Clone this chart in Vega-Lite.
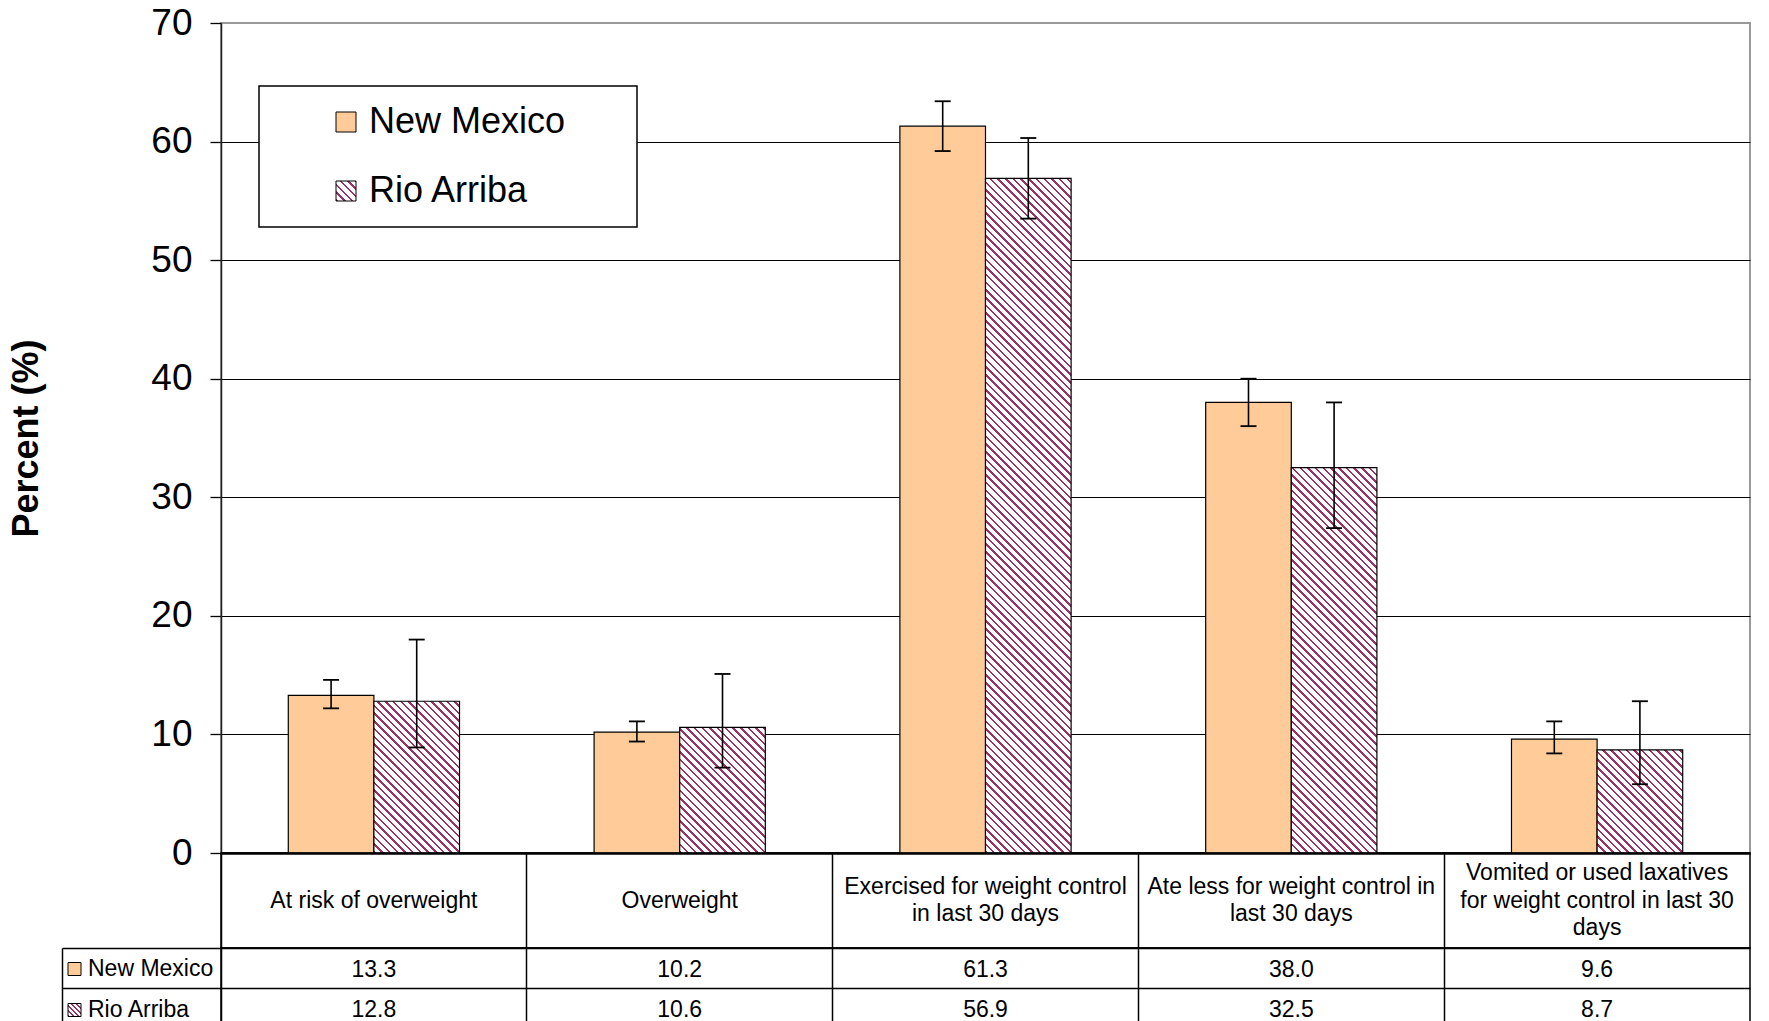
{
  "$schema": "https://vega.github.io/schema/vega-lite/v6.json",
  "background": "white",
  "padding": {"left": 7, "top": 3, "right": 10, "bottom": 0},
  "autosize": {"type": "pad"},
  "spacing": 0,
  "bounds": "flush",
  "config": {
    "font": "Liberation Sans",
    "view": {"stroke": null},
    "legend": {"strokeWidth": 1.5}
  },
  "params": [
    {"name": "hatchStops", "value": [
{"offset":0,"color":"#936"},{"offset":0.0033,"color":"#936"},{"offset":0.0033,"color":"#fff"},{"offset":0.01,"color":"#fff"},
{"offset":0.01,"color":"#936"},{"offset":0.0133,"color":"#936"},{"offset":0.0133,"color":"#fff"},{"offset":0.02,"color":"#fff"},
{"offset":0.02,"color":"#936"},{"offset":0.0233,"color":"#936"},{"offset":0.0233,"color":"#fff"},{"offset":0.03,"color":"#fff"},
{"offset":0.03,"color":"#936"},{"offset":0.0333,"color":"#936"},{"offset":0.0333,"color":"#fff"},{"offset":0.04,"color":"#fff"},
{"offset":0.04,"color":"#936"},{"offset":0.0433,"color":"#936"},{"offset":0.0433,"color":"#fff"},{"offset":0.05,"color":"#fff"},
{"offset":0.05,"color":"#936"},{"offset":0.0533,"color":"#936"},{"offset":0.0533,"color":"#fff"},{"offset":0.06,"color":"#fff"},
{"offset":0.06,"color":"#936"},{"offset":0.0633,"color":"#936"},{"offset":0.0633,"color":"#fff"},{"offset":0.07,"color":"#fff"},
{"offset":0.07,"color":"#936"},{"offset":0.0733,"color":"#936"},{"offset":0.0733,"color":"#fff"},{"offset":0.08,"color":"#fff"},
{"offset":0.08,"color":"#936"},{"offset":0.0833,"color":"#936"},{"offset":0.0833,"color":"#fff"},{"offset":0.09,"color":"#fff"},
{"offset":0.09,"color":"#936"},{"offset":0.0933,"color":"#936"},{"offset":0.0933,"color":"#fff"},{"offset":0.10,"color":"#fff"},
{"offset":0.10,"color":"#936"},{"offset":0.1033,"color":"#936"},{"offset":0.1033,"color":"#fff"},{"offset":0.11,"color":"#fff"},
{"offset":0.11,"color":"#936"},{"offset":0.1133,"color":"#936"},{"offset":0.1133,"color":"#fff"},{"offset":0.12,"color":"#fff"},
{"offset":0.12,"color":"#936"},{"offset":0.1233,"color":"#936"},{"offset":0.1233,"color":"#fff"},{"offset":0.13,"color":"#fff"},
{"offset":0.13,"color":"#936"},{"offset":0.1333,"color":"#936"},{"offset":0.1333,"color":"#fff"},{"offset":0.14,"color":"#fff"},
{"offset":0.14,"color":"#936"},{"offset":0.1433,"color":"#936"},{"offset":0.1433,"color":"#fff"},{"offset":0.15,"color":"#fff"},
{"offset":0.15,"color":"#936"},{"offset":0.1533,"color":"#936"},{"offset":0.1533,"color":"#fff"},{"offset":0.16,"color":"#fff"},
{"offset":0.16,"color":"#936"},{"offset":0.1633,"color":"#936"},{"offset":0.1633,"color":"#fff"},{"offset":0.17,"color":"#fff"},
{"offset":0.17,"color":"#936"},{"offset":0.1733,"color":"#936"},{"offset":0.1733,"color":"#fff"},{"offset":0.18,"color":"#fff"},
{"offset":0.18,"color":"#936"},{"offset":0.1833,"color":"#936"},{"offset":0.1833,"color":"#fff"},{"offset":0.19,"color":"#fff"},
{"offset":0.19,"color":"#936"},{"offset":0.1933,"color":"#936"},{"offset":0.1933,"color":"#fff"},{"offset":0.20,"color":"#fff"},
{"offset":0.20,"color":"#936"},{"offset":0.2033,"color":"#936"},{"offset":0.2033,"color":"#fff"},{"offset":0.21,"color":"#fff"},
{"offset":0.21,"color":"#936"},{"offset":0.2133,"color":"#936"},{"offset":0.2133,"color":"#fff"},{"offset":0.22,"color":"#fff"},
{"offset":0.22,"color":"#936"},{"offset":0.2233,"color":"#936"},{"offset":0.2233,"color":"#fff"},{"offset":0.23,"color":"#fff"},
{"offset":0.23,"color":"#936"},{"offset":0.2333,"color":"#936"},{"offset":0.2333,"color":"#fff"},{"offset":0.24,"color":"#fff"},
{"offset":0.24,"color":"#936"},{"offset":0.2433,"color":"#936"},{"offset":0.2433,"color":"#fff"},{"offset":0.25,"color":"#fff"},
{"offset":0.25,"color":"#936"},{"offset":0.2533,"color":"#936"},{"offset":0.2533,"color":"#fff"},{"offset":0.26,"color":"#fff"},
{"offset":0.26,"color":"#936"},{"offset":0.2633,"color":"#936"},{"offset":0.2633,"color":"#fff"},{"offset":0.27,"color":"#fff"},
{"offset":0.27,"color":"#936"},{"offset":0.2733,"color":"#936"},{"offset":0.2733,"color":"#fff"},{"offset":0.28,"color":"#fff"},
{"offset":0.28,"color":"#936"},{"offset":0.2833,"color":"#936"},{"offset":0.2833,"color":"#fff"},{"offset":0.29,"color":"#fff"},
{"offset":0.29,"color":"#936"},{"offset":0.2933,"color":"#936"},{"offset":0.2933,"color":"#fff"},{"offset":0.30,"color":"#fff"},
{"offset":0.30,"color":"#936"},{"offset":0.3033,"color":"#936"},{"offset":0.3033,"color":"#fff"},{"offset":0.31,"color":"#fff"},
{"offset":0.31,"color":"#936"},{"offset":0.3133,"color":"#936"},{"offset":0.3133,"color":"#fff"},{"offset":0.32,"color":"#fff"},
{"offset":0.32,"color":"#936"},{"offset":0.3233,"color":"#936"},{"offset":0.3233,"color":"#fff"},{"offset":0.33,"color":"#fff"},
{"offset":0.33,"color":"#936"},{"offset":0.3333,"color":"#936"},{"offset":0.3333,"color":"#fff"},{"offset":0.34,"color":"#fff"},
{"offset":0.34,"color":"#936"},{"offset":0.3433,"color":"#936"},{"offset":0.3433,"color":"#fff"},{"offset":0.35,"color":"#fff"},
{"offset":0.35,"color":"#936"},{"offset":0.3533,"color":"#936"},{"offset":0.3533,"color":"#fff"},{"offset":0.36,"color":"#fff"},
{"offset":0.36,"color":"#936"},{"offset":0.3633,"color":"#936"},{"offset":0.3633,"color":"#fff"},{"offset":0.37,"color":"#fff"},
{"offset":0.37,"color":"#936"},{"offset":0.3733,"color":"#936"},{"offset":0.3733,"color":"#fff"},{"offset":0.38,"color":"#fff"},
{"offset":0.38,"color":"#936"},{"offset":0.3833,"color":"#936"},{"offset":0.3833,"color":"#fff"},{"offset":0.39,"color":"#fff"},
{"offset":0.39,"color":"#936"},{"offset":0.3933,"color":"#936"},{"offset":0.3933,"color":"#fff"},{"offset":0.40,"color":"#fff"},
{"offset":0.40,"color":"#936"},{"offset":0.4033,"color":"#936"},{"offset":0.4033,"color":"#fff"},{"offset":0.41,"color":"#fff"},
{"offset":0.41,"color":"#936"},{"offset":0.4133,"color":"#936"},{"offset":0.4133,"color":"#fff"},{"offset":0.42,"color":"#fff"},
{"offset":0.42,"color":"#936"},{"offset":0.4233,"color":"#936"},{"offset":0.4233,"color":"#fff"},{"offset":0.43,"color":"#fff"},
{"offset":0.43,"color":"#936"},{"offset":0.4333,"color":"#936"},{"offset":0.4333,"color":"#fff"},{"offset":0.44,"color":"#fff"},
{"offset":0.44,"color":"#936"},{"offset":0.4433,"color":"#936"},{"offset":0.4433,"color":"#fff"},{"offset":0.45,"color":"#fff"},
{"offset":0.45,"color":"#936"},{"offset":0.4533,"color":"#936"},{"offset":0.4533,"color":"#fff"},{"offset":0.46,"color":"#fff"},
{"offset":0.46,"color":"#936"},{"offset":0.4633,"color":"#936"},{"offset":0.4633,"color":"#fff"},{"offset":0.47,"color":"#fff"},
{"offset":0.47,"color":"#936"},{"offset":0.4733,"color":"#936"},{"offset":0.4733,"color":"#fff"},{"offset":0.48,"color":"#fff"},
{"offset":0.48,"color":"#936"},{"offset":0.4833,"color":"#936"},{"offset":0.4833,"color":"#fff"},{"offset":0.49,"color":"#fff"},
{"offset":0.49,"color":"#936"},{"offset":0.4933,"color":"#936"},{"offset":0.4933,"color":"#fff"},{"offset":0.50,"color":"#fff"},
{"offset":0.50,"color":"#936"},{"offset":0.5033,"color":"#936"},{"offset":0.5033,"color":"#fff"},{"offset":0.51,"color":"#fff"},
{"offset":0.51,"color":"#936"},{"offset":0.5133,"color":"#936"},{"offset":0.5133,"color":"#fff"},{"offset":0.52,"color":"#fff"},
{"offset":0.52,"color":"#936"},{"offset":0.5233,"color":"#936"},{"offset":0.5233,"color":"#fff"},{"offset":0.53,"color":"#fff"},
{"offset":0.53,"color":"#936"},{"offset":0.5333,"color":"#936"},{"offset":0.5333,"color":"#fff"},{"offset":0.54,"color":"#fff"},
{"offset":0.54,"color":"#936"},{"offset":0.5433,"color":"#936"},{"offset":0.5433,"color":"#fff"},{"offset":0.55,"color":"#fff"},
{"offset":0.55,"color":"#936"},{"offset":0.5533,"color":"#936"},{"offset":0.5533,"color":"#fff"},{"offset":0.56,"color":"#fff"},
{"offset":0.56,"color":"#936"},{"offset":0.5633,"color":"#936"},{"offset":0.5633,"color":"#fff"},{"offset":0.57,"color":"#fff"},
{"offset":0.57,"color":"#936"},{"offset":0.5733,"color":"#936"},{"offset":0.5733,"color":"#fff"},{"offset":0.58,"color":"#fff"},
{"offset":0.58,"color":"#936"},{"offset":0.5833,"color":"#936"},{"offset":0.5833,"color":"#fff"},{"offset":0.59,"color":"#fff"},
{"offset":0.59,"color":"#936"},{"offset":0.5933,"color":"#936"},{"offset":0.5933,"color":"#fff"},{"offset":0.60,"color":"#fff"},
{"offset":0.60,"color":"#936"},{"offset":0.6033,"color":"#936"},{"offset":0.6033,"color":"#fff"},{"offset":0.61,"color":"#fff"},
{"offset":0.61,"color":"#936"},{"offset":0.6133,"color":"#936"},{"offset":0.6133,"color":"#fff"},{"offset":0.62,"color":"#fff"},
{"offset":0.62,"color":"#936"},{"offset":0.6233,"color":"#936"},{"offset":0.6233,"color":"#fff"},{"offset":0.63,"color":"#fff"},
{"offset":0.63,"color":"#936"},{"offset":0.6333,"color":"#936"},{"offset":0.6333,"color":"#fff"},{"offset":0.64,"color":"#fff"},
{"offset":0.64,"color":"#936"},{"offset":0.6433,"color":"#936"},{"offset":0.6433,"color":"#fff"},{"offset":0.65,"color":"#fff"},
{"offset":0.65,"color":"#936"},{"offset":0.6533,"color":"#936"},{"offset":0.6533,"color":"#fff"},{"offset":0.66,"color":"#fff"},
{"offset":0.66,"color":"#936"},{"offset":0.6633,"color":"#936"},{"offset":0.6633,"color":"#fff"},{"offset":0.67,"color":"#fff"},
{"offset":0.67,"color":"#936"},{"offset":0.6733,"color":"#936"},{"offset":0.6733,"color":"#fff"},{"offset":0.68,"color":"#fff"},
{"offset":0.68,"color":"#936"},{"offset":0.6833,"color":"#936"},{"offset":0.6833,"color":"#fff"},{"offset":0.69,"color":"#fff"},
{"offset":0.69,"color":"#936"},{"offset":0.6933,"color":"#936"},{"offset":0.6933,"color":"#fff"},{"offset":0.70,"color":"#fff"},
{"offset":0.70,"color":"#936"},{"offset":0.7033,"color":"#936"},{"offset":0.7033,"color":"#fff"},{"offset":0.71,"color":"#fff"},
{"offset":0.71,"color":"#936"},{"offset":0.7133,"color":"#936"},{"offset":0.7133,"color":"#fff"},{"offset":0.72,"color":"#fff"},
{"offset":0.72,"color":"#936"},{"offset":0.7233,"color":"#936"},{"offset":0.7233,"color":"#fff"},{"offset":0.73,"color":"#fff"},
{"offset":0.73,"color":"#936"},{"offset":0.7333,"color":"#936"},{"offset":0.7333,"color":"#fff"},{"offset":0.74,"color":"#fff"},
{"offset":0.74,"color":"#936"},{"offset":0.7433,"color":"#936"},{"offset":0.7433,"color":"#fff"},{"offset":0.75,"color":"#fff"},
{"offset":0.75,"color":"#936"},{"offset":0.7533,"color":"#936"},{"offset":0.7533,"color":"#fff"},{"offset":0.76,"color":"#fff"},
{"offset":0.76,"color":"#936"},{"offset":0.7633,"color":"#936"},{"offset":0.7633,"color":"#fff"},{"offset":0.77,"color":"#fff"},
{"offset":0.77,"color":"#936"},{"offset":0.7733,"color":"#936"},{"offset":0.7733,"color":"#fff"},{"offset":0.78,"color":"#fff"},
{"offset":0.78,"color":"#936"},{"offset":0.7833,"color":"#936"},{"offset":0.7833,"color":"#fff"},{"offset":0.79,"color":"#fff"},
{"offset":0.79,"color":"#936"},{"offset":0.7933,"color":"#936"},{"offset":0.7933,"color":"#fff"},{"offset":0.80,"color":"#fff"},
{"offset":0.80,"color":"#936"},{"offset":0.8033,"color":"#936"},{"offset":0.8033,"color":"#fff"},{"offset":0.81,"color":"#fff"},
{"offset":0.81,"color":"#936"},{"offset":0.8133,"color":"#936"},{"offset":0.8133,"color":"#fff"},{"offset":0.82,"color":"#fff"},
{"offset":0.82,"color":"#936"},{"offset":0.8233,"color":"#936"},{"offset":0.8233,"color":"#fff"},{"offset":0.83,"color":"#fff"},
{"offset":0.83,"color":"#936"},{"offset":0.8333,"color":"#936"},{"offset":0.8333,"color":"#fff"},{"offset":0.84,"color":"#fff"},
{"offset":0.84,"color":"#936"},{"offset":0.8433,"color":"#936"},{"offset":0.8433,"color":"#fff"},{"offset":0.85,"color":"#fff"},
{"offset":0.85,"color":"#936"},{"offset":0.8533,"color":"#936"},{"offset":0.8533,"color":"#fff"},{"offset":0.86,"color":"#fff"},
{"offset":0.86,"color":"#936"},{"offset":0.8633,"color":"#936"},{"offset":0.8633,"color":"#fff"},{"offset":0.87,"color":"#fff"},
{"offset":0.87,"color":"#936"},{"offset":0.8733,"color":"#936"},{"offset":0.8733,"color":"#fff"},{"offset":0.88,"color":"#fff"},
{"offset":0.88,"color":"#936"},{"offset":0.8833,"color":"#936"},{"offset":0.8833,"color":"#fff"},{"offset":0.89,"color":"#fff"},
{"offset":0.89,"color":"#936"},{"offset":0.8933,"color":"#936"},{"offset":0.8933,"color":"#fff"},{"offset":0.90,"color":"#fff"},
{"offset":0.90,"color":"#936"},{"offset":0.9033,"color":"#936"},{"offset":0.9033,"color":"#fff"},{"offset":0.91,"color":"#fff"},
{"offset":0.91,"color":"#936"},{"offset":0.9133,"color":"#936"},{"offset":0.9133,"color":"#fff"},{"offset":0.92,"color":"#fff"},
{"offset":0.92,"color":"#936"},{"offset":0.9233,"color":"#936"},{"offset":0.9233,"color":"#fff"},{"offset":0.93,"color":"#fff"},
{"offset":0.93,"color":"#936"},{"offset":0.9333,"color":"#936"},{"offset":0.9333,"color":"#fff"},{"offset":0.94,"color":"#fff"},
{"offset":0.94,"color":"#936"},{"offset":0.9433,"color":"#936"},{"offset":0.9433,"color":"#fff"},{"offset":0.95,"color":"#fff"},
{"offset":0.95,"color":"#936"},{"offset":0.9533,"color":"#936"},{"offset":0.9533,"color":"#fff"},{"offset":0.96,"color":"#fff"},
{"offset":0.96,"color":"#936"},{"offset":0.9633,"color":"#936"},{"offset":0.9633,"color":"#fff"},{"offset":0.97,"color":"#fff"},
{"offset":0.97,"color":"#936"},{"offset":0.9733,"color":"#936"},{"offset":0.9733,"color":"#fff"},{"offset":0.98,"color":"#fff"},
{"offset":0.98,"color":"#936"},{"offset":0.9833,"color":"#936"},{"offset":0.9833,"color":"#fff"},{"offset":0.99,"color":"#fff"},
{"offset":0.99,"color":"#936"},{"offset":0.9933,"color":"#936"},{"offset":0.9933,"color":"#fff"},{"offset":1.00,"color":"#fff"}
    ]},
    {"name": "raLegend", "expr": "{gradient: 'linear', x1: 0, y1: 1, x2: 19.25, y2: -18.25, stops: hatchStops}"}
  ],
  "datasets": {
    "survey": [
      {"Indicator": "At risk of overweight", "Region": "New Mexico", "Percent": 13.3, "Low": 12.2, "High": 14.6},
      {"Indicator": "At risk of overweight", "Region": "Rio Arriba", "Percent": 12.8, "Low": 8.9, "High": 18.0},
      {"Indicator": "Overweight", "Region": "New Mexico", "Percent": 10.2, "Low": 9.4, "High": 11.1},
      {"Indicator": "Overweight", "Region": "Rio Arriba", "Percent": 10.6, "Low": 7.2, "High": 15.1},
      {"Indicator": "Exercised for weight control\nin last 30 days", "Region": "New Mexico", "Percent": 61.3, "Low": 59.2, "High": 63.4},
      {"Indicator": "Exercised for weight control\nin last 30 days", "Region": "Rio Arriba", "Percent": 56.9, "Low": 53.5, "High": 60.3},
      {"Indicator": "Ate less for weight control in\nlast 30 days", "Region": "New Mexico", "Percent": 38.0, "Low": 36.0, "High": 40.0},
      {"Indicator": "Ate less for weight control in\nlast 30 days", "Region": "Rio Arriba", "Percent": 32.5, "Low": 27.4, "High": 38.0},
      {"Indicator": "Vomited or used laxatives\nfor weight control in last 30\ndays", "Region": "New Mexico", "Percent": 9.6, "Low": 8.4, "High": 11.1},
      {"Indicator": "Vomited or used laxatives\nfor weight control in last 30\ndays", "Region": "Rio Arriba", "Percent": 8.7, "Low": 5.8, "High": 12.8}
    ]
  },
  "data": {"name": "survey"},
  "resolve": {"legend": {"fill": "independent"}},
  "vconcat": [
    {
      "width": 1529,
      "height": 830,
      "view": {"stroke": "#999999", "strokeWidth": 2},
      "encoding": {
        "x": {"field": "Indicator", "type": "nominal", "sort": null, "scale": {"type": "band", "paddingInner": 0, "paddingOuter": 0}, "axis": null},
        "xOffset": {"field": "Region", "type": "nominal", "scale": {"paddingInner": 0, "paddingOuter": 0.786}}
      },
      "layer": [
        {
          "mark": {"type": "point", "shape": "square", "filled": true, "opacity": 0, "stroke": "black", "strokeWidth": 1},
          "encoding": {
            "y": {
              "field": "Percent", "type": "quantitative",
              "scale": {"domain": [0, 70], "nice": false},
              "axis": {
                "values": [0, 10, 20, 30, 40, 50, 60, 70],
                "title": "Percent (%)", "titleFontSize": 36, "titleFontWeight": "bold", "titleColor": "black", "titlePadding": 105,
                "labelFontSize": 37, "labelColor": "black", "labelPadding": 18,
                "tickSize": 11, "tickColor": "black", "tickWidth": 1.3,
                "domainColor": "#222222", "domainWidth": 1.5,
                "grid": true, "gridOpacity": 1,
                "gridColor": {"condition": {"test": "datum.value === 70", "value": "transparent"}, "value": "black"},
                "gridWidth": {"condition": {"test": "datum.value === 0", "value": 2.5}, "value": 1.2}
              }
            },
            "fill": {
              "field": "Region", "type": "nominal",
              "scale": {"domain": ["New Mexico", "Rio Arriba"], "range": ["#ffcc99", {"expr": "raLegend"}]},
              "legend": {
                "orient": "none", "legendX": 38, "legendY": 63, "direction": "vertical",
                "title": " ", "titleOrient": "right", "titlePadding": 54, "titleFontSize": 10,
                "padding": 18, "strokeColor": "black", "fillColor": "white",
                "symbolType": "square", "symbolSize": 400, "symbolOffset": 51,
                "symbolStrokeColor": "black", "symbolStrokeWidth": 1, "symbolOpacity": 1,
                "labelFontSize": 36, "labelColor": "black", "labelOffset": 5, "labelLimit": 500,
                "rowPadding": 33
              }
            }
          }
        },
        {
          "mark": {"type": "bar", "stroke": "black", "strokeWidth": 1.2, "opacity": 1},
          "encoding": {
            "y": {"field": "Percent", "type": "quantitative"},
            "fill": {"value": {"expr": "datum.Region === 'New Mexico' ? '#ffcc99' : {gradient: 'linear', x1: 0, y1: 1, x2: 770 * 85.6 / (7327 + pow(datum.Percent * 11.857, 2)), y2: 1 - 770 * datum.Percent * 11.857 / (7327 + pow(datum.Percent * 11.857, 2)), stops: hatchStops}"}}
          }
        },
        {
          "mark": {"type": "rule", "color": "black", "strokeWidth": 1.6, "opacity": 1},
          "encoding": {
            "y": {"field": "Low", "type": "quantitative"},
            "y2": {"field": "High"}
          }
        },
        {
          "mark": {"type": "tick", "color": "black", "thickness": 1.8, "size": 16, "opacity": 1},
          "encoding": {"y": {"field": "Low", "type": "quantitative"}}
        },
        {
          "mark": {"type": "tick", "color": "black", "thickness": 1.8, "size": 16, "opacity": 1},
          "encoding": {"y": {"field": "High", "type": "quantitative"}}
        }
      ]
    },
    {
      "width": 1529,
      "height": 95,
      "view": {"stroke": "black", "strokeWidth": 1.5},
      "transform": [{"filter": "datum.Region === 'New Mexico'"}],
      "mark": {
        "type": "text", "fontSize": 23, "lineBreak": "\n", "lineHeight": 27.5, "color": "black", "baseline": "middle", "align": "center",
        "dy": {"expr": "-(length(split(datum.Indicator, '\\n')) - 1) * 13.75"}
      },
      "encoding": {
        "x": {
          "field": "Indicator", "type": "nominal", "sort": null,
          "scale": {"type": "band", "paddingInner": 0, "paddingOuter": 0},
          "axis": {"orient": "top", "title": null, "labels": false, "ticks": false, "domain": false, "grid": true, "gridColor": "black", "gridWidth": 1.5, "gridOpacity": 1, "bandPosition": 0}
        },
        "text": {"field": "Indicator"}
      }
    },
    {
      "width": 1529,
      "height": 80,
      "view": {"stroke": "black", "strokeWidth": 1.5},
      "encoding": {
        "x": {
          "field": "Indicator", "type": "nominal", "sort": null,
          "scale": {"type": "band", "paddingInner": 0, "paddingOuter": 0},
          "axis": {"orient": "top", "title": null, "labels": false, "ticks": false, "domain": false, "grid": true, "gridColor": "black", "gridWidth": 1.5, "gridOpacity": 1, "bandPosition": 0}
        }
      },
      "layer": [
        {
          "mark": {"type": "point", "shape": "square", "filled": true, "opacity": 0, "stroke": "black", "strokeWidth": 1},
          "encoding": {
            "y": {
              "field": "Region", "type": "nominal",
              "scale": {"type": "band", "paddingInner": 0, "paddingOuter": 0},
              "axis": {"orient": "left", "offset": 159, "title": null, "labels": false, "ticks": false, "grid": false, "domain": true, "domainColor": "black", "domainWidth": 1.5}
            },
            "fill": {
              "field": "Region", "type": "nominal",
              "scale": {"domain": ["New Mexico", "Rio Arriba"], "range": ["#ffcc99", {"expr": "raLegend"}]},
              "legend": {
                "orient": "none", "legendX": -158, "legendY": 9.5, "title": null, "direction": "vertical",
                "padding": 0,
                "symbolType": "square", "symbolSize": 169,
                "symbolStrokeColor": "black", "symbolStrokeWidth": 1, "symbolOpacity": 1,
                "labelFontSize": 23, "labelColor": "black", "labelOffset": 2, "labelLimit": 300,
                "rowPadding": 17
              }
            }
          }
        },
        {
          "mark": {"type": "text", "fontSize": 23, "color": "black", "baseline": "middle", "align": "center", "dy": 1.5},
          "encoding": {
            "y": {
              "field": "Region", "type": "nominal",
              "axis": {"orient": "left", "title": null, "labels": false, "domain": false, "ticks": true, "tickSize": 159, "tickColor": "black", "tickWidth": 1.5, "bandPosition": 0, "grid": true, "gridColor": "black", "gridWidth": 1.5, "gridOpacity": 1}
            },
            "text": {"field": "Percent", "type": "quantitative", "format": ".1f"}
          }
        }
      ],
      "resolve": {"axis": {"y": "independent"}}
    }
  ]
}
